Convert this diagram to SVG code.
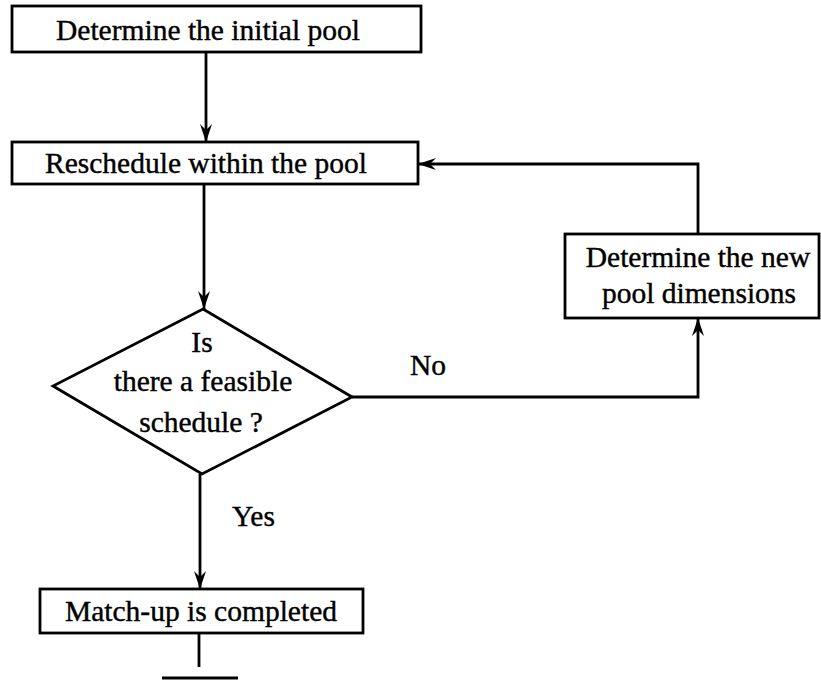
<svg xmlns="http://www.w3.org/2000/svg" width="821" height="689" viewBox="0 0 821 689">
<defs>
<style>
.box{fill:#fff;stroke:#000;stroke-width:2.8}
.ln{fill:none;stroke:#000;stroke-width:2.8}
.t{font-family:"Liberation Serif","Times New Roman",serif;font-size:29.5px;fill:#000;stroke:#000;stroke-width:0.4;text-anchor:middle}
.l{font-family:"Liberation Serif","Times New Roman",serif;font-size:29.5px;fill:#000;stroke:#000;stroke-width:0.4}
</style>
<marker id="ah" viewBox="0 0 18 12" refX="18" refY="6" markerWidth="18" markerHeight="12" markerUnits="userSpaceOnUse" orient="auto">
<path d="M0,0 L18,6 L0,12 L6,6 Z" fill="#000"/>
</marker>
</defs>
<rect width="821" height="689" fill="#fff"/>
<g id="connectors">
<line class="ln" x1="206" y1="52" x2="206" y2="142" marker-end="url(#ah)"/>
<line class="ln" x1="204" y1="184" x2="204" y2="309" marker-end="url(#ah)"/>
<polyline class="ln" points="352,397 698,397 698,318" marker-end="url(#ah)"/>
<polyline class="ln" points="698,234 698,164 418,164" marker-end="url(#ah)"/>
<line class="ln" x1="200" y1="474" x2="200" y2="589" marker-end="url(#ah)"/>
<line class="ln" x1="199" y1="633" x2="199" y2="667"/>
<line class="ln" x1="162" y1="678" x2="238" y2="678"/>
<text class="l" x="410" y="375">No</text>
<text class="l" x="232" y="526">Yes</text>
</g>
<g id="n1">
<rect class="box" x="12" y="6" width="409" height="46"/>
<text class="t" x="208" y="40">Determine the initial pool</text>
</g>
<g id="n2">
<rect class="box" x="12" y="142" width="406" height="42"/>
<text class="t" x="206" y="173">Reschedule within the pool</text>
</g>
<g id="n3">
<polygon class="box" points="203,309 352,397 202,474 53,386"/>
<text class="t" x="202" y="352">Is</text>
<text class="t" x="203" y="391">there a feasible</text>
<text class="t" x="201" y="432">schedule ?</text>
</g>
<g id="n4">
<rect class="box" x="565" y="234" width="254" height="84"/>
<text class="t" x="698" y="267">Determine the new</text>
<text class="t" x="699" y="303">pool dimensions</text>
</g>
<g id="n5">
<rect class="box" x="40" y="589" width="323" height="44"/>
<text class="t" x="201" y="621">Match-up is completed</text>
</g>
</svg>
